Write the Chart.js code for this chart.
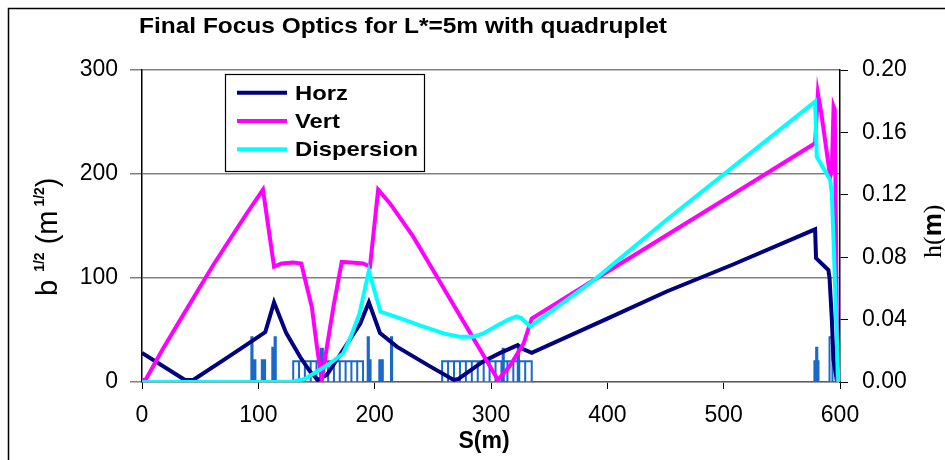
<!DOCTYPE html>
<html>
<head>
<meta charset="utf-8">
<script src="https://cdn.jsdelivr.net/npm/chart.js@4.4.1/dist/chart.umd.min.js"></script>
<style>
  html, body { margin: 0; padding: 0; background: #fff; }
  #chart { display: block; }
</style>
</head>
<body>
<canvas id="chart" width="945" height="460"></canvas>
<script>
// ================== data ==================
const horzS = [0, 37, 44, 70, 90, 106, 113.5, 124, 136, 144.5, 151, 159, 173, 187.5, 195, 204.6, 219, 247.6, 268, 272, 293, 308, 323, 327, 335, 400, 451, 508, 578.6, 579.4, 590, 591, 593, 594.4, 597.5];
const horzB = [28, 2, 2, 21, 36, 48, 76.6, 47, 24, 10, 2, 7, 31, 56, 76.6, 47, 34, 15, 2, 3, 19.5, 28, 35.5, 32, 28, 61, 87, 113, 146.8, 119, 107.7, 100, 60, 21, 0];

const vertS = [0, 3, 18, 33, 47, 61, 76, 90, 104, 113.5, 120, 130, 137, 139, 146, 150, 154.5, 159, 164.5, 171.7, 180, 190, 196, 203, 213, 233, 250, 262, 279, 296, 306, 316, 328, 335, 400, 500, 578.6, 581, 584, 591.6, 593, 594.5, 595.5, 597.8];
const vertB = [2, 2, 32, 60, 86, 112, 138, 162, 185, 111, 114, 115, 114, 104, 72, 37, 2, 34, 72, 115.5, 115, 114, 111, 185, 172, 140, 108, 85, 53, 21, 2, 15, 37, 61, 106, 175, 229.5, 277.6, 258, 197, 205, 265, 262, 0];

const dispS = [0, 128, 140, 150, 160, 173, 180, 187, 195, 205, 222, 240, 260, 273, 285, 293, 305, 315, 322, 326, 333.6, 340, 388, 451, 578.6, 580, 591.6, 593, 594.5, 598.6];
const dispH = [0, 0, 0.002, 0.0066, 0.011, 0.0184, 0.03, 0.044, 0.0713, 0.0451, 0.0408, 0.036, 0.031, 0.029, 0.029, 0.031, 0.036, 0.04, 0.042, 0.041, 0.0355, 0.039, 0.065, 0.104, 0.1797, 0.1444, 0.1295, 0.12, 0.09, 0];

// magnet lattice (left axis units): bend box edges + quads
const bendEdges1 = [130, 135, 140, 145, 150, 155, 160, 165, 170, 175, 180, 185, 190];
const bendEdges2 = [258, 263.1, 268.2, 273.3, 278.4, 283.5, 288.6, 293.7, 298.8, 303.9, 309, 314.1, 319.2, 324.3, 329.4, 335];
const bendEdges3 = [578, 581.5];
const bendHeight = 20;
const quadStart = [94, 96.5, 103, 104.8, 112, 114, 153.5, 194, 195.5, 204, 206, 214, 310, 323, 579.5, 591];
const quadEnd   = [95, 97.5, 104, 105.8, 113, 115, 155.5, 195, 196.5, 205, 207, 215, 311, 324, 580.5, 593.5];
const quadHeight = [43, 21, 21, 21, 33, 43, 32, 43, 21, 21, 21, 43, 32, 33, 33, 43];

const xTicks = { min: 0, max: 600, step: 100 };
const yTicks = { min: 0, max: 300, step: 100 };
const y2Ticks = { min: 0, max: 0.2, step: 0.04 };

// ================== build series ==================
const pts = (xs, ys) => xs.map((x, i) => ({ x, y: ys[i] }));

function magnetPoints() {
  const els = [];
  [bendEdges1, bendEdges2, bendEdges3].forEach(edges => {
    for (let i = 0; i < edges.length - 1; i++) els.push([edges[i], edges[i + 1], bendHeight]);
  });
  quadStart.forEach((s, i) => els.push([s, quadEnd[i], quadHeight[i]]));
  els.sort((a, b) => a[0] - b[0]);
  const out = [{ x: 0, y: 0 }];
  els.forEach(([s0, s1, h]) => {
    out.push({ x: s0, y: 0 }, { x: s0, y: h }, { x: s1, y: h }, { x: s1, y: 0 });
  });
  out.push({ x: 600, y: 0 });
  return out;
}

const FONT = "'Liberation Sans', Arial, sans-serif";

function fitText(ctx, text, x, y, w) {
  const m = ctx.measureText(text).width;
  ctx.save();
  ctx.translate(x, y);
  ctx.scale(w / m, 1);
  ctx.fillText(text, 0, 0);
  ctx.restore();
}

// ================== decorations ==================
const decor = {
  id: "decor",
  beforeDraw(chart) {
    const ctx = chart.ctx;
    ctx.save();
    ctx.fillStyle = "#fff";
    ctx.fillRect(0, 0, chart.width, chart.height);
    ctx.restore();
  },
  afterDraw(chart) {
    const ctx = chart.ctx;
    ctx.save();

    // outer frame (left + top visible)
    ctx.strokeStyle = "#000";
    ctx.lineWidth = 1.5;
    ctx.beginPath();
    ctx.moveTo(8.5, 470);
    ctx.lineTo(8.5, 8.5);
    ctx.lineTo(950, 8.5);
    ctx.stroke();

    // title
    ctx.fillStyle = "#000";
    ctx.textBaseline = "alphabetic";
    ctx.font = "bold 22px " + FONT;
    fitText(ctx, "Final Focus Optics for L*=5m with quadruplet", 139, 33, 528);

    // x title
    ctx.font = "bold 23px " + FONT;
    ctx.textAlign = "center";
    ctx.fillText("S(m)", 484, 448);
    ctx.textAlign = "left";

    // left y title: b^1/2 (m^1/2)
    ctx.save();
    ctx.translate(57, 296);
    ctx.rotate(-Math.PI / 2);
    let x = 0;
    const big = "29px " + FONT, sup = "bold 14px " + FONT;
    const parts = [["b", big, 0], [" ", big, 0], ["1/2", sup, -13], [" (m", big, 0], [" ", sup, 0], ["1/2", sup, -13], [")", big, 0]];
    parts.forEach(([t, f, dy]) => {
      ctx.font = f;
      ctx.fillText(t, x, dy);
      x += ctx.measureText(t).width;
    });
    ctx.restore();

    // right y title: h(m)
    ctx.save();
    ctx.translate(941, 258);
    ctx.rotate(-Math.PI / 2);
    x = 0;
    const serif = "26px 'Liberation Serif', 'Times New Roman', serif";
    [["h(", serif], ["m", "bold 26px " + FONT], [")", serif]].forEach(([t, f]) => {
      ctx.font = f;
      ctx.fillText(t, x, 0);
      x += ctx.measureText(t).width;
    });
    ctx.restore();

    // legend box
    const lx = 225.5, ly = 74.5, lw = 199, lh = 97;
    ctx.fillStyle = "#fff";
    ctx.fillRect(lx, ly, lw, lh);
    ctx.strokeStyle = "#000";
    ctx.lineWidth = 1.2;
    ctx.strokeRect(lx, ly, lw, lh);

    const rows = [92.7, 121, 149.3];
    ctx.font = "bold 21px " + FONT;
    const k = 123 / ctx.measureText("Dispersion").width;
    chart.data.datasets.filter(d => d.inLegend).forEach((d, i) => {
      ctx.strokeStyle = d.borderColor;
      ctx.lineWidth = 4;
      ctx.beginPath();
      ctx.moveTo(237, rows[i]);
      ctx.lineTo(287, rows[i]);
      ctx.stroke();
      ctx.fillStyle = "#000";
      const w = ctx.measureText(d.label).width * k;
      fitText(ctx, d.label, 295, rows[i] + 7, w);
    });

    ctx.restore();
  },
};

// ================== chart ==================
const lineDs = (label, data, color, axis, order) => ({
  label, data, borderColor: color, backgroundColor: color,
  borderWidth: 4, pointRadius: 0, tension: 0, fill: false,
  yAxisID: axis, order, inLegend: true,
});

new Chart(document.getElementById("chart"), {
  type: "line",
  data: {
    datasets: [
      lineDs("Horz", pts(horzS, horzB), "#000080", "y", 2),
      lineDs("Vert", pts(vertS, vertB), "#ff00ff", "y", 1),
      lineDs("Dispersion", pts(dispS, dispH), "#00ffff", "y2", 0),
      {
        label: "magnets", data: magnetPoints(), borderColor: "#1a68c8",
        borderWidth: 2, pointRadius: 0, tension: 0, fill: false,
        yAxisID: "y", order: 3, inLegend: false,
      },
    ],
  },
  options: {
    responsive: false,
    animation: false,
    devicePixelRatio: 1,
    layout: { padding: { top: 70, left: 0, right: 0, bottom: 0 } },
    plugins: { legend: { display: false }, tooltip: { enabled: false } },
    scales: {
      x: {
        type: "linear", min: xTicks.min, max: xTicks.max,
        ticks: { stepSize: xTicks.step, color: "#000", font: { size: 23, family: FONT }, padding: 13, maxRotation: 0 },
        grid: { drawOnChartArea: false, tickLength: 7, color: "#000", lineWidth: 1 },
        border: { color: "#808080", width: 1.5 },
        afterFit: s => { s.height = 78; },
      },
      y: {
        position: "left", min: yTicks.min, max: yTicks.max,
        ticks: { stepSize: yTicks.step, color: "#000", font: { size: 23, family: FONT }, padding: 12 },
        grid: { color: "#808080", lineWidth: 1.5, tickLength: 12 },
        border: { color: "#000", width: 1.5 },
        afterFit: s => { s.width = 142; },
      },
      y2: {
        position: "right", min: y2Ticks.min, max: y2Ticks.max,
        ticks: { stepSize: y2Ticks.step, color: "#000", font: { size: 23, family: FONT }, padding: 14, callback: v => Number(v).toFixed(2) },
        grid: { drawOnChartArea: false, tickLength: 8, color: "#000", lineWidth: 1 },
        border: { color: "#000", width: 1.5 },
        afterFit: s => { s.width = 105; },
      },
    },
  },
  plugins: [decor],
});
</script>
</body>
</html>
